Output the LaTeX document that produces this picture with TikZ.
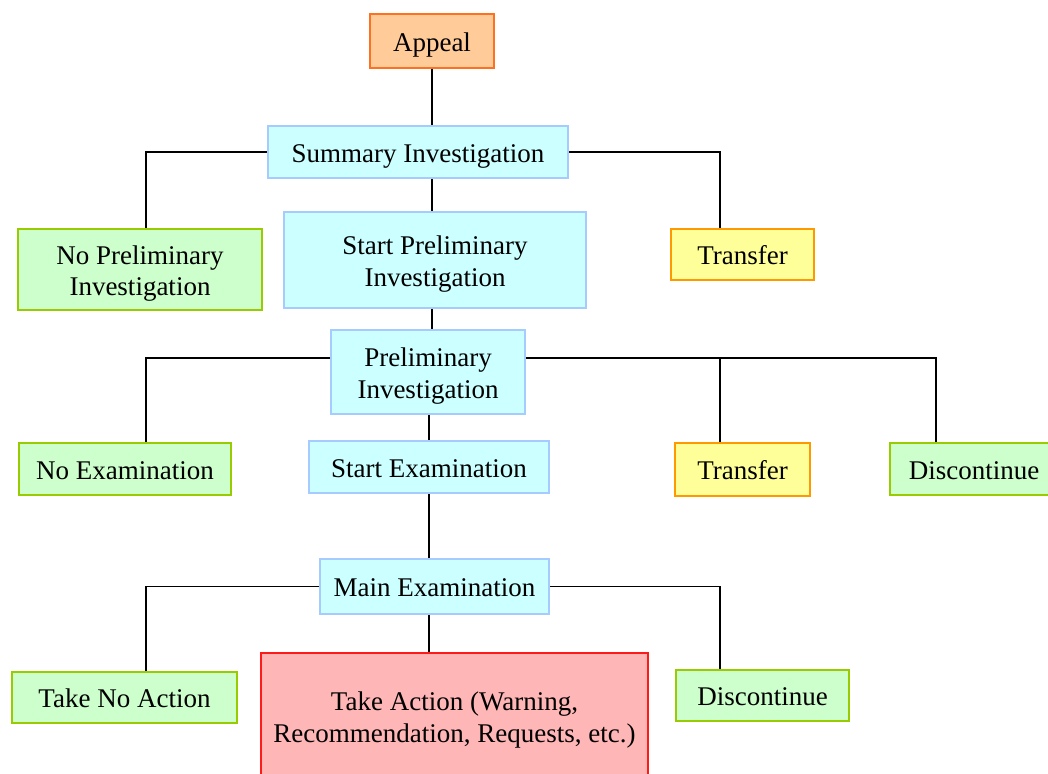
\documentclass[tikz,border=0pt]{standalone}
\usepackage{fontspec}
\setmainfont{Liberation Serif}
\usepackage{tikz}
\usetikzlibrary{calc,positioning}

\definecolor{appealfill}{HTML}{FFCC99}
\definecolor{appealdraw}{HTML}{FF7020}
\definecolor{stepfill}{HTML}{CCFFFF}
\definecolor{stepdraw}{HTML}{A6CCFF}
\definecolor{endfill}{HTML}{CCFFCC}
\definecolor{enddraw}{HTML}{99CC00}
\definecolor{movefill}{HTML}{FFFF99}
\definecolor{movedraw}{HTML}{FF9900}
\definecolor{actfill}{HTML}{FFB6B6}
\definecolor{actdraw}{HTML}{FF1A1A}

\newcommand{\liftline}{\rule{0pt}{27.5pt}}
\newcommand{\sinkline}{\rule[-7pt]{0pt}{7pt}}

\tikzset{
	box/.style={rectangle, align=center, inner sep=0pt, line width=2pt,
		font=\fontsize{27}{31.5}\selectfont,
		execute at begin node={\liftline},
		execute at end node={\sinkline}},
	appealbox/.style={box, fill=appealfill, draw=appealdraw},
	stagebox/.style={box, fill=stepfill, draw=stepdraw},
	closebox/.style={box, fill=endfill, draw=enddraw},
	movebox/.style={box, fill=movefill, draw=movedraw},
	actbox/.style={box, fill=actfill, draw=actdraw, line width=1.5pt},
	link/.style={draw=black, line width=1.6pt}
}

\begin{document}
\begin{tikzpicture}[x=1pt,y=-1pt]
		\useasboundingbox (0,0) rectangle (1048,773);
		\node(1) [appealbox, minimum width=124, minimum height=54] at (432,41) {Appeal};
		\node(2) [stagebox, minimum width=300, minimum height=52] at (418,152) {Summary Investigation};
		\node(3) [closebox, minimum width=244, minimum height=81] at (140,269.5) {\liftline No Preliminary\\Investigation\sinkline};
		\node(4) [stagebox, minimum width=302, minimum height=96] at (435,260) {\liftline Start Preliminary\\Investigation\sinkline};
		\node(5) [movebox, minimum width=143, minimum height=51] at (742.5,254.5) {Transfer};
		\node(6) [stagebox, minimum width=194, minimum height=84] at (428,372) {\liftline Preliminary\\Investigation\sinkline};
		\node(7) [closebox, minimum width=212, minimum height=52] at (125,469) {No Examination};
		\node(8) [stagebox, minimum width=240, minimum height=52] at (429,467) {Start Examination};
		\node(9) [movebox, minimum width=135, minimum height=53] at (742.5,469.5) {Transfer};
		\node(10) [closebox, minimum width=168, minimum height=52] at (974,469) {Discontinue};
		\node(11) [stagebox, minimum width=229, minimum height=55] at (434.5,586.5) {Main Examination};
		\node(12) [closebox, minimum width=225, minimum height=51] at (124.5,697.5) {Take No Action};
		\node(13) [actbox, minimum width=387, minimum height=126] at (454.5,716) {\liftline Take Action (Warning,\\Recommendation, Requests, etc.)\sinkline};
		\node(14) [closebox, minimum width=173, minimum height=51] at (762.5,695.5) {Discontinue};
		\path[link]
			(1.south) edge (1.south |- 2.north)
			(1.south |- 2.south) edge (1.south |- 4.north)
			(1.south |- 4.south) edge (1.south |- 6.north)
			(8.north |- 6.south) edge (8.north)
			(8.south) edge (8.south |- 11.north)
			(8.south |- 11.south) edge (8.south |- 13.north);
		\draw[link] (2.west) -| ($(3.north)+(6,0)$);
		\draw[link] (2.east) -| ($(5.north)+(-22.5,0)$);
		\draw[link] ($(6.west)+(0,-14)$) -| ($(7.north)+(21,0)$);
		\draw[link] ($(6.east)+(0,-14)$) -| ($(10.north)+(-38,0)$);
		\draw[link] ($(9.north)+(-22.5,0)$) |- ($(6.east)+(0,-14)$);
		\draw[link] (11.west) -| ($(12.north)+(21.5,0)$);
		\draw[link] (11.east) -| ($(14.north)+(-42.5,0)$);
	\end{tikzpicture}
\end{document}
